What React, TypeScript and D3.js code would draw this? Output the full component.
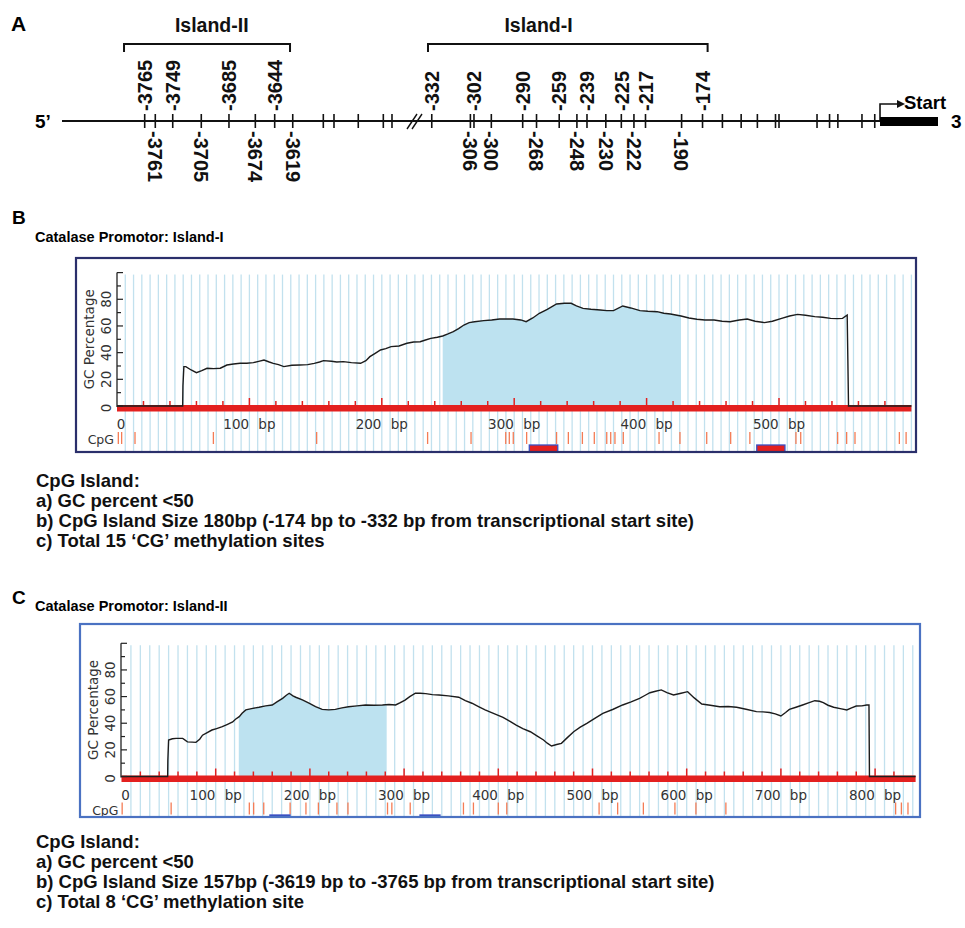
import { useEffect, useRef } from "react";
import * as d3 from "d3";

// ---------- Panel A: schematic promoter map (positions = % along the drawn line)
const aboveLabels = ["-3765", "-3749", "-3685", "-3644", "-332", "-302", "-290", "-259", "-239", "-225", "-217", "-174"];
const abovePos = [9.44, 12.64, 19.06, 24.28, 42.21, 47.03, 52.59, 56.76, 59.93, 63.85, 66.61, 73.12];
const belowLabels = ["-3761", "-3705", "-3674", "-3619", "-306", "-300", "-268", "-248", "-230", "-222", "-190"];
const belowPos = [10.65, 15.9, 22.07, 26.34, 46.62, 49.01, 54.17, 58.78, 62.08, 65.29, 70.73];
const plainSitePos = [29.83, 31.05, 33.82, 36.68, 37.67, 75.39, 77.53, 79.38, 81.45, 81.85, 86.19, 87.62, 88.57, 91.32, 92.78];
const breakPos = 40.24;
const islandNames = ["Island-II", "Island-I"];
const islandFrom = [7.08, 41.78];
const islandTo = [26.03, 73.7];
const islandLabelPos = [17.1, 54.4];
const startPos = 93.38;

// ---------- Panel B: Island-I GC profile
const lengthB = 600;
const gcBPos = [0, 49.6, 49.8, 50.5, 52, 56, 60, 64, 68, 73, 78, 83, 88, 93, 98, 103, 107, 111, 115, 118, 122, 126, 132, 138, 144, 149, 153, 156, 162, 166, 171, 177, 184, 188, 191, 195, 199, 203, 207, 213, 219, 224, 229, 233, 237, 242, 246, 250, 254, 258, 262, 266, 270, 277, 283, 289, 299, 305, 309, 314, 319, 325, 332, 338, 343, 347, 352, 358, 365, 370, 375, 382, 388, 395, 401, 408, 413, 418, 426, 432, 438, 444, 451, 457, 463, 470, 476, 482, 489, 495, 502, 508, 514, 520, 527, 533, 539, 544, 548, 551.5, 552, 552.5, 600];
const gcBVal = [0, 0, 15, 29.5, 29.5, 27, 25, 26.5, 28.3, 28, 28.3, 30.7, 31.5, 32, 32, 32.5, 33.5, 34.5, 33, 32, 31, 29.5, 30.5, 30.7, 31, 32, 33, 34, 33.5, 33, 33.3, 32.5, 32, 34, 37, 39.5, 42, 43, 44.5, 45, 47, 48, 48.2, 49.5, 50.7, 51.5, 52.5, 54, 55.7, 58, 60.7, 62.5, 63.2, 64, 64.5, 65.2, 65.2, 64.5, 63.2, 66, 69.5, 72.5, 76.5, 77, 77, 75, 73.2, 72.5, 72, 71.5, 71.5, 75, 73.5, 71.5, 71, 70.7, 69.5, 69, 67.5, 66, 65, 64.5, 64.5, 63.5, 63.2, 64.5, 65.2, 63.5, 62.5, 63.5, 65.7, 67.5, 68.7, 68, 67, 66.5, 65.7, 65.5, 65.7, 68.2, 35, 0, 0];
const islandB = [246, 426];
const cpgB = [1, 3.5, 13.6, 72.8, 150.8, 234.6, 267.4, 293.6, 296.3, 299.3, 309.4, 332, 340.9, 351.5, 360.5, 369.9, 372.9, 376.1, 382.4, 409.4, 425.2, 445.4, 463.5, 478, 512.8, 516.4, 544.3, 551.1, 557.4, 590.9, 596];
const primerStartB = [311.4, 483.2];
const primerEndB = [332.9, 504.5];

// ---------- Panel C: Island-II GC profile
const lengthC = 843;
const gcCPos = [0, 49, 49.2, 50, 54, 58, 65, 70, 75, 79, 83, 86, 91, 96, 101, 107, 112, 118, 121, 125, 128, 132, 138, 146, 153, 160, 165, 171, 175, 178, 182, 185, 192, 199, 206, 213, 220, 227, 234, 241, 250, 259, 268, 277, 284, 291, 296, 301, 306, 312, 317, 323, 330, 337, 347, 358, 365, 372, 379, 386, 391, 398, 405, 412, 419, 426, 434, 441, 448, 452, 456.5, 462, 467, 473, 480, 487, 494, 502, 511, 522, 532, 541, 550, 556, 561, 567, 573, 579, 586, 594, 601, 608, 616, 625, 635, 644, 653, 663, 674, 681, 688, 694, 700, 705, 709, 716, 723, 730, 736, 741, 745, 750, 756, 763, 770, 775, 780, 786, 791, 793.5, 794, 843];
const gcCVal = [0, 0, 12, 27.4, 28.3, 28.6, 28.6, 26, 25.8, 25.6, 28, 31, 33, 34.9, 36, 37.4, 39, 41, 43, 44.9, 47.5, 50, 51, 52, 53, 53.7, 56, 58.7, 61, 62.5, 60.5, 59.5, 57.5, 55, 52.5, 50.4, 50, 50.4, 51.5, 52.4, 53, 53.7, 53.5, 53.7, 54, 53.7, 55.5, 57.4, 60, 62.5, 62.5, 62.2, 61.5, 61.2, 60.5, 59.5, 57, 55, 52.5, 50, 48.5, 46.5, 44.4, 41.5, 38.6, 36, 33.6, 30.5, 27.4, 25, 22.9, 24, 24.9, 29, 33.6, 37, 39.9, 43.5, 47.4, 50.5, 53.7, 56, 58.7, 61, 62.9, 64, 65, 63, 61.2, 62.5, 63.7, 59, 54.4, 53.5, 52.4, 52.5, 52, 50.5, 48.7, 48.5, 48, 47, 45.4, 48, 50.4, 52, 53.7, 55.5, 56.9, 56.5, 55.4, 53.5, 52, 51, 50, 51.5, 52.9, 53, 53.7, 53.7, 0, 0];
const islandC = [124.5, 281.5];
const cpgC = [0.7, 52.7, 135.7, 140.3, 151, 179, 195.8, 209, 228.7, 240.4, 282.4, 287, 306.5, 363, 373.6, 400, 409, 507, 526.7, 554, 587.5, 609.8, 641.6, 821.8, 827.9, 834.9];
const primerStartC = [157.6, 316.9];
const primerEndC = [178.9, 338.1];

const yTicks = [0, 20, 40, 60, 80];

const notesB = [
  "CpG Island:",
  "a) GC percent <50",
  "b) CpG Island Size 180bp (-174 bp to -332 bp from transcriptional start site)",
  "c) Total 15 \u2018CG\u2019 methylation sites",
];
const notesC = [
  "CpG Island:",
  "a) GC percent <50",
  "b) CpG Island Size 157bp (-3619 bp to -3765 bp from transcriptional start site)",
  "c) Total 8 \u2018CG\u2019 methylation site",
];

const BOLD = "'Liberation Sans', Arial, sans-serif";
const PLOT_FONT = "'DejaVu Sans', Verdana, sans-serif";

function drawMap(svg) {
  const g = svg.append("g");
  const mx = d3.scaleLinear().domain([0, 100]).range([62, 938]);
  const lineY = 121;

  g.append("text").attr("x", 11).attr("y", 31).text("A")
    .attr("font-family", BOLD).attr("font-weight", "bold").attr("font-size", 21);
  g.append("text").attr("x", 35).attr("y", 128).text("5\u2019")
    .attr("font-family", BOLD).attr("font-weight", "bold").attr("font-size", 19);
  g.append("text").attr("x", 951).attr("y", 128).text("3")
    .attr("font-family", BOLD).attr("font-weight", "bold").attr("font-size", 19);

  g.append("line").attr("x1", mx(0)).attr("x2", mx(startPos))
    .attr("y1", lineY).attr("y2", lineY).attr("stroke", "#111").attr("stroke-width", 2);

  const ticks = [...abovePos, ...belowPos, ...plainSitePos];
  g.selectAll("line.site").data(ticks).join("line").attr("class", "site")
    .attr("x1", (d) => mx(d)).attr("x2", (d) => mx(d))
    .attr("y1", lineY - 7).attr("y2", lineY + 7)
    .attr("stroke", "#111").attr("stroke-width", 1.6);

  // break marks
  [0, 5].forEach((off) => {
    g.append("line")
      .attr("x1", mx(breakPos) - 7.5 + off).attr("y1", lineY + 8)
      .attr("x2", mx(breakPos) + 2.5 + off).attr("y2", lineY - 7)
      .attr("stroke", "#111").attr("stroke-width", 1.4);
  });

  const labelFont = (sel) => sel.attr("font-family", BOLD).attr("font-weight", "bold").attr("font-size", 20).attr("fill", "#111");

  g.selectAll("text.up").data(aboveLabels).join("text").attr("class", "up")
    .attr("transform", (_, i) => `translate(${mx(abovePos[i])},${lineY - 10}) rotate(-90)`)
    .attr("dy", "0.36em").text((d) => d).call(labelFont);

  g.selectAll("text.down").data(belowLabels).join("text").attr("class", "down")
    .attr("transform", (_, i) => `translate(${mx(belowPos[i])},${lineY + 10}) rotate(90)`)
    .attr("dy", "0.36em").text((d) => d).call(labelFont);

  islandNames.forEach((name, i) => {
    g.append("path")
      .attr("d", `M${mx(islandFrom[i])},52V44H${mx(islandTo[i])}V52`)
      .attr("fill", "none").attr("stroke", "#111").attr("stroke-width", 2);
    g.append("text").attr("x", mx(islandLabelPos[i])).attr("y", 32)
      .attr("text-anchor", "middle").text(name).call(labelFont).attr("font-size", 19.5);
  });

  // transcription start
  const sx = mx(startPos);
  g.append("path").attr("d", `M${sx},${lineY}V104H${sx + 19}`)
    .attr("fill", "none").attr("stroke", "#111").attr("stroke-width", 1.6);
  g.append("path").attr("d", `M${sx + 25},104L${sx + 17},100L${sx + 17},108Z`).attr("fill", "#111");
  g.append("rect").attr("x", sx).attr("y", lineY - 4).attr("width", mx(100) - sx).attr("height", 9).attr("fill", "#000");
  g.append("text").attr("x", sx + 24).attr("y", 109).text("Start")
    .attr("font-family", BOLD).attr("font-weight", "bold").attr("font-size", 18.5);
}

function drawGcPanel(svg, p) {
  const g = svg.append("g");
  const [bx0, by0, bx1, by1] = p.box;
  const x = d3.scaleLinear().domain([0, p.length]).range([p.x0, p.x0 + p.length * p.pxPerBp]);
  const y = d3.scaleLinear().domain([0, 100]).range([p.yZero, p.yTop]);
  const clipId = `clip-${p.id}`;

  g.append("text").attr("x", 12).attr("y", p.letterY).text(p.letter)
    .attr("font-family", BOLD).attr("font-weight", "bold").attr("font-size", 19);
  g.append("text").attr("x", 35).attr("y", p.titleY).text(p.title)
    .attr("font-family", BOLD).attr("font-weight", "bold").attr("font-size", 14.5);

  g.append("clipPath").attr("id", clipId).append("rect")
    .attr("x", bx0).attr("y", by0).attr("width", bx1 - bx0).attr("height", by1 - by0);
  const inner = g.append("g").attr("clip-path", `url(#${clipId})`);
  inner.append("rect").attr("x", bx0).attr("y", by0).attr("width", bx1 - bx0).attr("height", by1 - by0).attr("fill", "#fff");

  // vertical grid
  const grid = d3.range(p.gridStep, p.length + 0.01, p.gridStep);
  inner.selectAll("line.grid").data(grid).join("line").attr("class", "grid")
    .attr("x1", (d) => x(d)).attr("x2", (d) => x(d))
    .attr("y1", y(100) + 2).attr("y2", by1)
    .attr("stroke", "#c2e1ee").attr("stroke-width", 1.3);

  const pts = p.pos.map((d, i) => [d, p.val[i]]);

  // CpG island shading
  const islandClip = `island-${p.id}`;
  inner.append("clipPath").attr("id", islandClip).append("rect")
    .attr("x", x(p.island[0])).attr("y", y(100)).attr("width", x(p.island[1]) - x(p.island[0])).attr("height", y(0) - y(100));
  inner.append("path").datum(pts)
    .attr("clip-path", `url(#${islandClip})`)
    .attr("d", d3.area().x((d) => x(d[0])).y0(y(0)).y1((d) => y(d[1])))
    .attr("fill", "#bde2f0");

  // red sequence bar + ticks
  inner.append("rect").attr("x", x(0)).attr("y", y(0) - 1).attr("width", x(p.length) - x(0)).attr("height", 6.5).attr("fill", "#e3201f");
  const redTicks = d3.range(20, p.length - 5, 20);
  inner.selectAll("line.rt").data(redTicks).join("line").attr("class", "rt")
    .attr("x1", (d) => x(d)).attr("x2", (d) => x(d))
    .attr("y1", (d) => y(0) - (d % 100 === 0 ? 8 : 5)).attr("y2", y(0))
    .attr("stroke", "#e3201f").attr("stroke-width", 1.5);

  // GC line
  inner.append("path").datum(pts)
    .attr("d", d3.line().x((d) => x(d[0])).y((d) => y(d[1])))
    .attr("fill", "none").attr("stroke", "#1c1c1c").attr("stroke-width", 1.4);

  // y axis
  const ax = p.axisX;
  inner.append("line").attr("x1", ax).attr("x2", ax).attr("y1", y(100)).attr("y2", y(0) + 1)
    .attr("stroke", "#222").attr("stroke-width", 1.3);
  const yAll = d3.range(0, 101, 10);
  inner.selectAll("line.yt").data(yAll).join("line").attr("class", "yt")
    .attr("x1", ax).attr("x2", (d) => ax + (d % 20 === 0 ? 6 : 4))
    .attr("y1", (d) => y(d)).attr("y2", (d) => y(d))
    .attr("stroke", "#222").attr("stroke-width", 1.2);
  inner.selectAll("text.yl").data(yTicks).join("text").attr("class", "yl")
    .attr("transform", (d) => `translate(${ax - 11},${y(d) + (d === 0 ? 2 : 0)}) rotate(-90)`)
    .attr("text-anchor", "middle").attr("dy", "0.36em")
    .attr("font-family", PLOT_FONT).attr("font-size", 13.5).attr("fill", "#333")
    .text((d) => d);
  inner.append("text")
    .attr("transform", `translate(${ax - 28},${(y(0) + y(100)) / 2}) rotate(-90)`)
    .attr("text-anchor", "middle").attr("dy", "0.36em")
    .attr("font-family", PLOT_FONT).attr("font-size", 13.5).attr("fill", "#333")
    .text("GC Percentage");

  // x labels
  const xLabels = d3.range(0, p.length, 100);
  inner.selectAll("text.xl").data(xLabels).join("text").attr("class", "xl")
    .attr("x", (d) => (d === 0 ? x(d) + 4 : x(d)))
    .attr("y", y(0) + 23)
    .attr("text-anchor", "middle").attr("word-spacing", 5)
    .attr("font-family", PLOT_FONT).attr("font-size", 13.5).attr("fill", "#333")
    .text((d) => (d === 0 ? "0" : `${d} bp`));

  // CpG row
  inner.append("text").attr("x", x(0) - 3).attr("y", y(0) + 38).attr("text-anchor", "end")
    .attr("font-family", PLOT_FONT).attr("font-size", 12.5).attr("fill", "#333").text("CpG");
  inner.selectAll("line.cpg").data(p.cpg).join("line").attr("class", "cpg")
    .attr("x1", (d) => x(d)).attr("x2", (d) => x(d))
    .attr("y1", y(0) + 26).attr("y2", y(0) + 38)
    .attr("stroke", "#f47c55").attr("stroke-width", 1.3);

  // primer markers, mostly cut off by the frame
  p.primerStart.forEach((s, i) => {
    inner.append("rect").attr("x", x(s)).attr("y", by1 - p.primerShow)
      .attr("width", x(p.primerEnd[i]) - x(s)).attr("height", 10)
      .attr("fill", p.primerFill).attr("stroke", "#3a4fc4").attr("stroke-width", 1.3);
  });

  g.append("rect").attr("x", bx0).attr("y", by0).attr("width", bx1 - bx0).attr("height", by1 - by0)
    .attr("fill", "none").attr("stroke", p.border).attr("stroke-width", 2.2);

  // notes
  g.selectAll("text.note").data(p.notes).join("text").attr("class", "note")
    .attr("x", 36).attr("y", (_, i) => p.notesY + i * 20)
    .attr("font-family", BOLD).attr("font-weight", "bold").attr("font-size", 18.5).attr("fill", "#111")
    .text((d) => d);
}

const panelB = {
  id: "b", letter: "B", letterY: 224, title: "Catalase Promotor: Island-I", titleY: 242,
  box: [76, 258, 916, 452], border: "#2a2f6b",
  length: lengthB, pos: gcBPos, val: gcBVal, island: islandB, cpg: cpgB,
  primerStart: primerStartB, primerEnd: primerEndB, primerFill: "#e3201f", primerShow: 7,
  x0: 117, pxPerBp: 1.324, yZero: 406, yTop: 272.6, axisX: 117, gridStep: 6.25,
  notes: notesB, notesY: 487,
};

const panelC = {
  id: "c", letter: "C", letterY: 604, title: "Catalase Promotor: Island-II", titleY: 611,
  box: [80, 624, 920, 817], border: "#4b72c2",
  length: lengthC, pos: gcCPos, val: gcCVal, island: islandC, cpg: cpgC,
  primerStart: primerStartC, primerEnd: primerEndC, primerFill: "#3a4fc4", primerShow: 2,
  x0: 121.5, pxPerBp: 0.942, yZero: 776.5, yTop: 643.3, axisX: 121, gridStep: 10,
  notes: notesC, notesY: 848,
};

export default function App() {
  const svgRef = useRef(null);

  useEffect(() => {
    const svg = d3.select(svgRef.current);
    svg.selectAll("*").remove();
    drawMap(svg);
    drawGcPanel(svg, panelB);
    drawGcPanel(svg, panelC);
  }, []);

  return (
    <>
      <style>{"body{margin:0}"}</style>
      <svg ref={svgRef} width={965} height={928} style={{ display: "block", background: "#fff" }} />
    </>
  );
}
